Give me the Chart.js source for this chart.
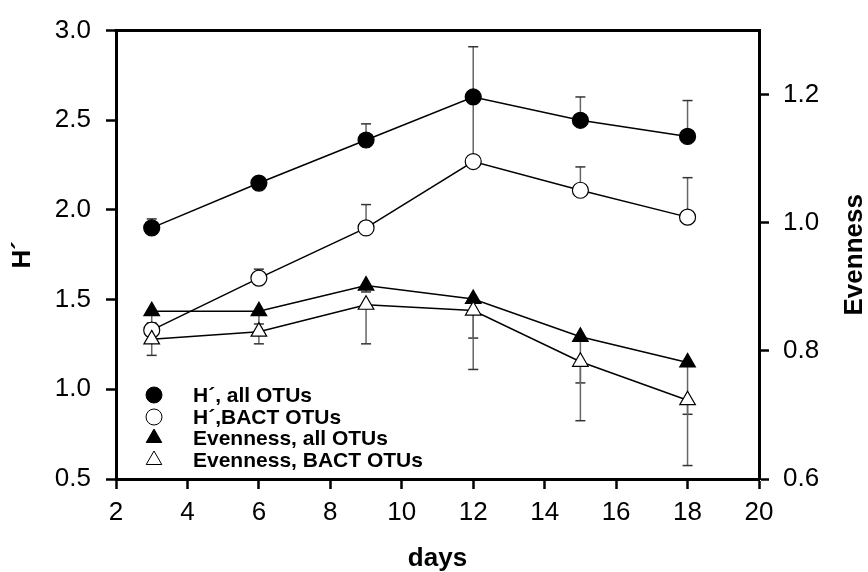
<!DOCTYPE html>
<html>
<head>
<meta charset="utf-8">
<script src="https://cdn.jsdelivr.net/npm/chart.js@4"></script>
<style>
  html, body { margin: 0; padding: 0; background: #fff; }
  #wrap { width: 868px; height: 572px; }
</style>
</head>
<body>
<div id="wrap"><canvas id="divChart"></canvas></div>
<script>
// data
const days = [3, 6, 9, 12, 15, 18];
const hAll = [1.90, 2.15, 2.39, 2.63, 2.50, 2.41];
const hAllErr = [0.05, 0.02, 0.09, 0.28, 0.13, 0.20];
const hBact = [1.33, 1.62, 1.90, 2.27, 2.11, 1.96];
const hBactErr = [0.04, 0.05, 0.13, 0.34, 0.13, 0.22];
const evenAll = [0.862, 0.862, 0.902, 0.881, 0.822, 0.782];
const evenAllErr = [0.02, 0.02, 0.01, 0.061, 0.072, 0.081];
const evenBact = [0.818, 0.830, 0.872, 0.863, 0.783, 0.723];
const evenBactErr = [0.025, 0.019, 0.061, 0.092, 0.092, 0.102];

const xTicks = [2, 4, 6, 8, 10, 12, 14, 16, 18, 20];
const hTicks = [0.5, 1.0, 1.5, 2.0, 2.5, 3.0];
const evenTicks = [0.6, 0.8, 1.0, 1.2];

const FONT = 'Arial, "Liberation Sans", Helvetica, sans-serif';

function pts(vals) {
    return vals.map((v, i) => ({ x: days[i], y: v }));
}

function series(label, vals, err, dir, axis, style, filled, ord) {
    return {
        label: label,
        data: pts(vals),
        errs: err,
        errDir: dir,
        yAxisID: axis,
        order: ord,
        borderColor: '#000',
        borderWidth: 1.5,
        pointStyle: style,
        pointRadius: style === 'triangle' ? 9 : 8,
        pointBorderWidth: 1.2,
        pointBorderColor: '#000',
        pointBackgroundColor: filled ? '#000' : '#fff',
        fill: false,
        tension: 0
    };
}

// error bars (one-sided) drawn through the scales
const errorBars = {
    id: 'errorBars',
    beforeDatasetsDraw(chart) {
        const ctx = chart.ctx;
        const xs = chart.scales.x;
        chart.data.datasets.forEach(ds => {
            const ys = chart.scales[ds.yAxisID];
            ds.data.forEach((p, i) => {
                const e = ds.errs[i];
                const px = xs.getPixelForValue(p.x);
                const y0 = ys.getPixelForValue(p.y);
                const y1 = ys.getPixelForValue(p.y + ds.errDir * e);
                ctx.save();
                ctx.strokeStyle = '#666';
                ctx.lineWidth = 1.5;
                ctx.beginPath();
                ctx.moveTo(px, y0);
                ctx.lineTo(px, y1);
                ctx.stroke();
                ctx.strokeStyle = '#333';
                ctx.beginPath();
                ctx.moveTo(px - 5, y1);
                ctx.lineTo(px + 5, y1);
                ctx.stroke();
                ctx.restore();
            });
        });
    }
};

// top frame, right title and legend box
const extras = {
    id: 'extras',
    afterDraw(chart) {
        const ctx = chart.ctx;
        const a = chart.chartArea;
        ctx.save();
        ctx.strokeStyle = '#000';
        ctx.lineWidth = 3;
        ctx.beginPath();
        ctx.moveTo(a.left - 1.5, a.top);
        ctx.lineTo(a.right + 1.5, a.top);
        ctx.stroke();

        // Evenness title, reading bottom to top
        ctx.translate(855, (a.top + a.bottom) / 2);
        ctx.rotate(-Math.PI / 2);
        ctx.fillStyle = '#000';
        ctx.font = 'bold 26px ' + FONT;
        ctx.textAlign = 'center';
        ctx.textBaseline = 'middle';
        ctx.fillText('Evenness', 0, 0);
        ctx.restore();

        // legend
        ctx.save();
        ctx.font = 'bold 21px ' + FONT;
        ctx.textBaseline = 'middle';
        ctx.fillStyle = '#000';
        const rows = [395, 417, 438, 460];
        chart.data.datasets.forEach((ds, i) => {
            const y = rows[i];
            ctx.fillStyle = ds.pointBackgroundColor;
            ctx.strokeStyle = '#000';
            ctx.lineWidth = 1;
            Chart.helpers.drawPoint(ctx, {
                pointStyle: ds.pointStyle,
                radius: ds.pointStyle === 'triangle' ? 9 : 8,
                rotation: 0,
                borderWidth: 1
            }, 154, y);
            ctx.fillStyle = '#000';
            ctx.fillText(ds.label, 193, y + 1);
        });
        ctx.restore();
    }
};

const axisBorder = { display: true, color: '#000', width: 3 };
const tickGrid = { display: true, drawOnChartArea: false, drawTicks: true, tickLength: 10, tickWidth: 2.5, tickColor: '#000' };

new Chart(document.getElementById('divChart'), {
    type: 'line',
    data: {
        datasets: [
            series('H\u00b4, all OTUs', hAll, hAllErr, 1, 'y', 'circle', true, 3),
            series('H\u00b4,BACT OTUs', hBact, hBactErr, 1, 'y', 'circle', false, 2),
            series('Evenness, all OTUs', evenAll, evenAllErr, -1, 'y2', 'triangle', true, 1),
            series('Evenness, BACT OTUs', evenBact, evenBactErr, -1, 'y2', 'triangle', false, 0)
        ]
    },
    options: {
        responsive: true,
        maintainAspectRatio: false,
        animation: false,
        layout: { padding: { top: 29, left: 0, right: 0, bottom: 0 } },
        plugins: {
            legend: { display: false },
            tooltip: { enabled: false }
        },
        scales: {
            x: {
                type: 'linear',
                min: 2,
                max: 20,
                border: axisBorder,
                grid: tickGrid,
                afterBuildTicks: s => { s.ticks = xTicks.map(v => ({ value: v })); },
                afterFit: s => { s.height = 93; },
                ticks: {
                    color: '#000',
                    padding: 8,
                    font: { family: FONT, size: 26 },
                    callback: v => String(v)
                },
                title: {
                    display: true,
                    text: 'days',
                    color: '#000',
                    padding: { top: 0, bottom: 0 },
                    font: { family: FONT, size: 26, weight: 'bold', lineHeight: 1 }
                }
            },
            y: {
                type: 'linear',
                position: 'left',
                min: 0.5,
                max: 3.0,
                border: axisBorder,
                grid: tickGrid,
                afterBuildTicks: s => { s.ticks = hTicks.map(v => ({ value: v })); },
                afterFit: s => { s.width = 116; },
                ticks: {
                    color: '#000',
                    padding: 15,
                    font: { family: FONT, size: 26 },
                    callback: v => Number(v).toFixed(1)
                },
                title: {
                    display: true,
                    text: 'H\u00b4',
                    color: '#000',
                    padding: { top: 10, bottom: 0 },
                    font: { family: FONT, size: 26, weight: 'bold', lineHeight: 1 }
                }
            },
            y2: {
                type: 'linear',
                position: 'right',
                min: 0.6,
                max: 1.3,
                border: axisBorder,
                grid: tickGrid,
                afterBuildTicks: s => { s.ticks = evenTicks.map(v => ({ value: v })); },
                afterFit: s => { s.width = 109; },
                ticks: {
                    color: '#000',
                    padding: 14,
                    font: { family: FONT, size: 26 },
                    callback: v => Number(v).toFixed(1)
                }
            }
        }
    },
    plugins: [errorBars, extras]
});
</script>
</body>
</html>
